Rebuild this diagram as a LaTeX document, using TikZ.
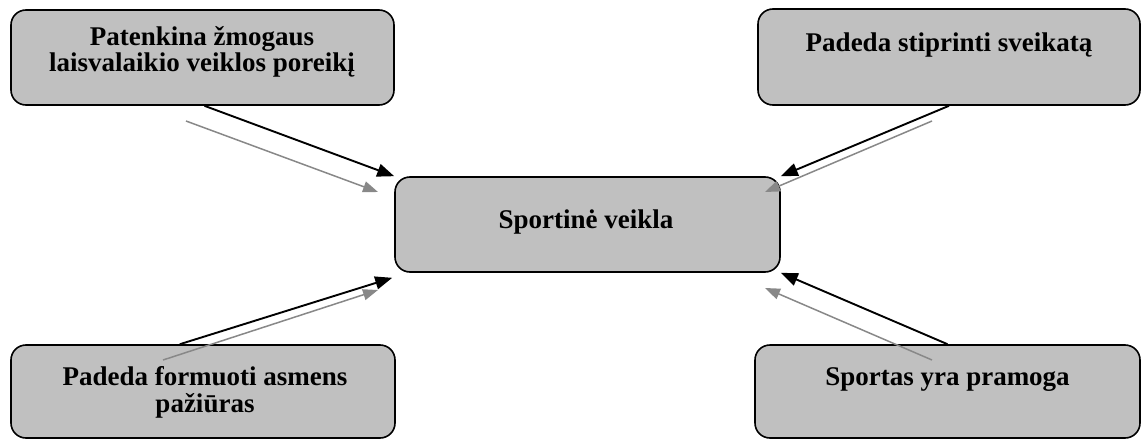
\documentclass[tikz,border=0pt]{standalone}
\usepackage{fontspec}
\setmainfont{Liberation Serif}
\usetikzlibrary{arrows.meta,calc}
\definecolor{boxgray}{HTML}{C0C0C0}
\definecolor{arrowgray}{HTML}{888888}
\begin{document}
\begin{tikzpicture}[x=1pt,y=-1pt,
  box/.style={draw=black,line width=1.6pt,fill=boxgray,rounded corners=15pt,inner sep=0pt},
  txt/.style={font=\bfseries\fontsize{27}{26}\selectfont,align=center,inner sep=0pt,anchor=base},
  main/.style={draw=black,line width=1.9pt,-{Triangle[length=17pt,width=13pt]}},
  echo/.style={draw=arrowgray,line width=1.5pt,-{Triangle[length=15pt,width=11pt]}}]
\useasboundingbox (0,0) rectangle (1144,439);

% boxes
\node[box,minimum width=383pt,minimum height=95pt] (tl) at (202.5,57.5) {};
\node[box,minimum width=382pt,minimum height=96pt] (tr) at (949,57) {};
\node[box,minimum width=385pt,minimum height=95pt] (c) at (587.5,224.5) {};
\node[box,minimum width=384pt,minimum height=93pt] (bl) at (203,391.5) {};
\node[box,minimum width=385pt,minimum height=93pt] (br) at (947.5,391.5) {};

% free ends of the grey arrows
\coordinate (g1s) at (186,121); \coordinate (g1e) at (378,192);
\coordinate (g2s) at (932,121); \coordinate (g2e) at (765,192);
\coordinate (g3s) at (163,360); \coordinate (g3e) at (378,290);
\coordinate (g4s) at (932,360); \coordinate (g4e) at (765,288);

% black arrows
\draw[main] ($(tl.south west)!0.505!(tl.south east)$) -- (c.north west);
\draw[main] (tr.south) -- (c.north east);
\draw[main] ($(bl.north west)!0.44!(bl.north east)$) -- ($(c.south west)+(-2,5)$);
\draw[main] (br.north) -- (c.south east);

% grey arrows
\draw[echo] (g1s) -- (g1e);
\draw[echo] (g2s) -- (g2e);
\draw[echo] (g3s) -- (g3e);
\draw[echo] (g4s) -- (g4e);

% box texts (base anchor = baseline of the last line)
\node[txt,font=\bfseries\fontsize{27}{25.5}\selectfont] (tltxt) at (202,71) {Patenkina žmogaus\\laisvalaikio veiklos poreikį};
\node[txt] (trtxt) at (949,51) {Padeda stiprinti sveikatą};
\node[txt] (ctxt) at (586,228) {Sportinė veikla};
\node[txt,font=\bfseries\fontsize{27}{27}\selectfont] (bltxt) at (205,412) {Padeda formuoti asmens\\pažiūras};
\node[txt] (brtxt) at (947.5,385) {Sportas yra pramoga};
\end{tikzpicture}
\end{document}
